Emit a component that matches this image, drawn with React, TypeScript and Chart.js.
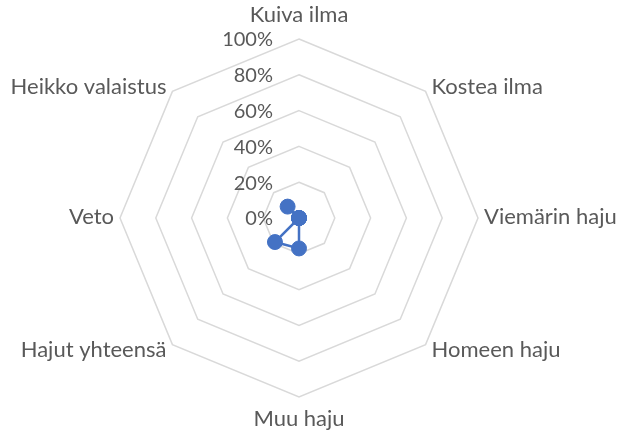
import React, { useEffect, useRef } from "react";
import { Chart, registerables } from "chart.js";

Chart.register(...registerables);

const categories = [
  "Kuiva ilma",
  "Kostea ilma",
  "Viemärin haju",
  "Homeen haju",
  "Muu haju",
  "Hajut yhteensä",
  "Veto",
  "Heikko valaistus",
];
const values = [0, 0, 0, 0, 17, 19, 0, 9];
const tickValues = [0, 20, 40, 60, 80, 100];

const TEXT = "#595959";
const LABEL_FONT = "22px Lato, 'Open Sans', sans-serif";
const TICK_FONT = "20px Lato, 'Open Sans', sans-serif";

const labelPlugin = {
  id: "customLabels",
  beforeDatasetsDraw(chart: any) {
    const s = chart.scales.r;
    const ctx = chart.ctx;
    ctx.save();
    ctx.font = TICK_FONT;
    ctx.fillStyle = TEXT;
    ctx.textAlign = "right";
    ctx.textBaseline = "middle";
    tickValues.forEach((v) => {
      const d = s.getDistanceFromCenterForValue(v);
      ctx.fillText(`${v}%`, s.xCenter - 26, s.yCenter - d + 1);
    });
    ctx.font = LABEL_FONT;
    const n = categories.length;
    categories.forEach((lab, i) => {
      const p = s.getPointPosition(i, s.drawingArea);
      const a = (i * 360) / n;
      let dx = 0, dy = 0, align: CanvasTextAlign = "center";
      if (a === 0) { dy = -24; }
      else if (a === 180) { dy = 22; }
      else if (a < 180) {
        align = "left";
        dx = 6;
        dy = a < 90 ? -5 : a > 90 ? 5 : -1;
      } else {
        align = "right";
        dx = -6;
        dy = a > 270 ? -5 : a < 270 ? 5 : -1;
      }
      ctx.textAlign = align;
      ctx.fillText(lab, p.x + dx, p.y + dy);
    });
    ctx.restore();
  },
};

export default function App() {
  const ref = useRef<HTMLCanvasElement>(null);
  useEffect(() => {
    document.body.style.margin = "0";
    const chart = new Chart(ref.current!, {
      type: "radar",
      data: {
        labels: categories,
        datasets: [
          {
            data: values,
            borderColor: "#4472C4",
            backgroundColor: "#4472C4",
            borderWidth: 2.5,
            pointRadius: 7.5,
            pointBackgroundColor: "#4472C4",
            pointBorderColor: "#4472C4",
            pointBorderWidth: 1,
            fill: false,
            tension: 0,
          },
        ],
      },
      options: {
        responsive: false,
        animation: false,
        plugins: { legend: { display: false }, tooltip: { enabled: false } },
        scales: {
          r: {
            min: 0,
            max: 100,
            ticks: { display: false, stepSize: 20 },
            grid: { color: "#D9D9D9", lineWidth: 1.5 },
            angleLines: { display: false },
            pointLabels: { display: false },
            afterFit: (scale: any) => {
              scale.drawingArea = 179;
              scale.xCenter = 299;
              scale.yCenter = 218;
            },
          },
        },
      },
      plugins: [labelPlugin],
    });
    return () => chart.destroy();
  }, []);
  return <canvas ref={ref} width={623} height={431} />;
}
